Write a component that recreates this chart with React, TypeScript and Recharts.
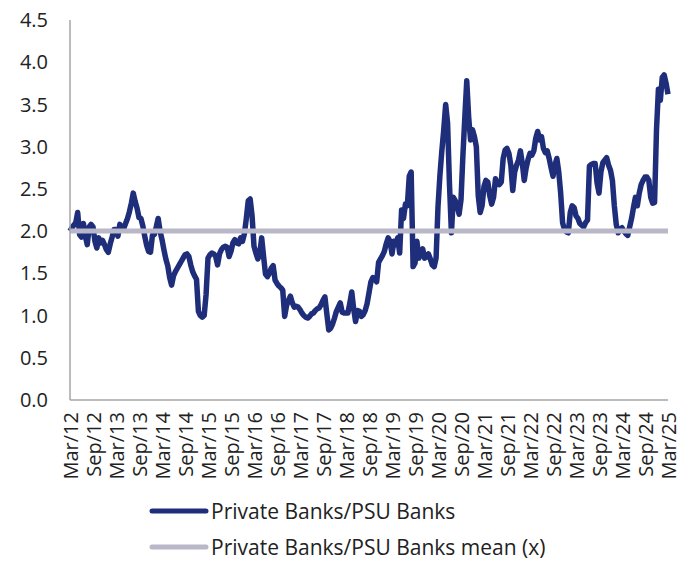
import { LineChart, Line, XAxis, YAxis } from "recharts";

// half-month steps, Mar/12 .. Mar/25
const xTickLabels = [
  "Mar/12", "Sep/12", "Mar/13", "Sep/13", "Mar/14", "Sep/14", "Mar/15", "Sep/15", "Mar/16",
  "Sep/16", "Mar/17", "Sep/17", "Mar/18", "Sep/18", "Mar/19", "Sep/19", "Mar/20", "Sep/20",
  "Mar/21", "Sep/21", "Mar/22", "Sep/22", "Mar/23", "Sep/23", "Mar/24", "Sep/24", "Mar/25",
];

const yTicks = [0, 0.5, 1, 1.5, 2, 2.5, 3, 3.5, 4, 4.5];

const seriesNames = ["Private Banks/PSU Banks", "Private Banks/PSU Banks mean (x)"];

const ratio = [
  2.0, 2.04, 2.07, 2.1, 2.22, 1.96, 1.93, 2.09, 1.94, 1.84, 2.05, 2.08,
  2.05, 1.88, 1.8, 1.92, 1.86, 1.89, 1.84, 1.78, 1.75, 1.85, 1.93, 2.02,
  2.02, 1.94, 2.08, 2.03, 2.03, 2.09, 2.15, 2.23, 2.33, 2.45, 2.35, 2.27,
  2.16, 2.15, 2.06, 1.94, 1.83, 1.76, 1.75, 1.95, 1.96, 2.05, 2.15, 2.0,
  1.9, 1.78, 1.67, 1.59, 1.45, 1.36, 1.47, 1.52, 1.56, 1.6, 1.64, 1.68,
  1.72, 1.73, 1.7, 1.6, 1.52, 1.47, 1.43, 1.05, 1.0, 0.98, 1.0, 1.25,
  1.68, 1.72, 1.74, 1.73, 1.7, 1.6, 1.73, 1.78, 1.81, 1.82, 1.81, 1.7,
  1.76, 1.86, 1.9, 1.86, 1.85, 1.92, 1.88, 1.97, 2.15, 2.36, 2.38, 2.18,
  1.82, 1.74, 1.67, 1.73, 1.92, 1.7, 1.49, 1.46, 1.5, 1.56, 1.59, 1.42,
  1.38, 1.35, 1.33, 1.3, 0.99, 1.12, 1.18, 1.23, 1.15, 1.1, 1.11, 1.1,
  1.07, 1.03, 1.0, 0.98, 0.97, 0.99, 1.02, 1.03, 1.06, 1.08, 1.09, 1.13,
  1.18, 1.22, 1.02, 0.83, 0.85, 0.9, 0.97, 1.05, 1.1, 1.15, 1.04, 1.03,
  1.03, 1.03, 1.15, 1.28, 1.08, 0.93, 1.06, 1.05, 0.99, 1.01, 1.06, 1.14,
  1.27, 1.4, 1.45, 1.43, 1.4, 1.63, 1.67, 1.71, 1.76, 1.85, 1.92, 1.88,
  1.73, 1.88, 1.84, 1.92, 1.74, 2.25, 2.15, 2.32, 2.3, 2.65, 2.7, 1.58,
  1.62, 1.88, 1.68, 1.76, 1.79, 1.68, 1.7, 1.73, 1.67, 1.6, 1.58, 1.68,
  2.29, 2.66, 2.95, 3.2, 3.5, 3.28, 2.55, 1.98, 2.4, 2.36, 2.3, 2.2,
  2.37, 2.9, 3.35, 3.78, 3.35, 3.08, 3.2, 3.12, 3.0, 2.42, 2.22, 2.3,
  2.53, 2.6, 2.58, 2.42, 2.32, 2.4, 2.62, 2.56, 2.55, 2.58, 2.86, 2.96,
  2.98, 2.92, 2.78, 2.48, 2.7, 2.78, 2.84, 2.95, 2.8, 2.6, 2.75, 2.85,
  2.92, 2.9, 2.95, 3.1, 3.18, 3.08, 3.12, 2.98, 2.93, 2.95, 2.86, 2.75,
  2.65, 2.78, 2.86, 2.7, 2.45, 2.1, 2.02, 1.99, 1.98, 2.22, 2.3, 2.28,
  2.18, 2.15, 2.09, 2.07, 2.05, 2.1, 2.13, 2.77, 2.79, 2.8, 2.8, 2.57,
  2.45, 2.7, 2.81, 2.84, 2.87, 2.78, 2.72, 2.6, 2.3, 2.08, 1.98, 2.02,
  2.04, 2.0, 1.97, 1.95, 2.05, 2.15, 2.28, 2.4, 2.3, 2.45, 2.55, 2.6,
  2.64, 2.64, 2.6, 2.4, 2.33, 2.34, 3.2, 3.68, 3.55, 3.82, 3.85, 3.75,
  3.62,
];

const meanLevel = 2.0;

const data = ratio.map((v, i) => ({ i, ratio: v, mean: meanLevel }));
const xTicks = xTickLabels.map((_, k) => k * 12);

const BLUE = "#1f2e7a";
const GREY = "#b9b8c9";
const FONT = "'Open Sans', sans-serif";

const XTick = ({ x, y, payload }: any) => (
  <text
    x={x}
    y={y}
    transform={`rotate(-90, ${x}, ${y})`}
    textAnchor="end"
    dominantBaseline="central"
    fontSize={20}
    fill="#222"
    fontFamily={FONT}
  >
    {xTickLabels[Math.round(payload.value / 12)]}
  </text>
);

// legend drawn under the x axis, inside the svg
const LegendLabel = ({ viewBox }: any) => {
  const left = viewBox.x + 82;
  const top = viewBox.y + 111;
  return (
    <g>
      {seriesNames.map((name, k) => (
        <g key={name}>
          <line
            x1={left}
            y1={top + k * 36}
            x2={left + 54}
            y2={top + k * 36}
            stroke={k === 0 ? BLUE : GREY}
            strokeWidth={5}
            strokeLinecap="round"
          />
          <text
            x={left + 59}
            y={top + k * 36}
            dominantBaseline="central"
            fontSize={21}
            fill="#222"
            fontFamily={FONT}
          >
            {name}
          </text>
        </g>
      ))}
    </g>
  );
};

export default function App() {
  // pull the chart up over the body margin so the second legend row fits
  return (
    <div style={{ marginTop: -8 }}>
      <LineChart width={673} height={561} data={data} margin={{ top: 20, right: 13, left: 0, bottom: 61 }}>
        <XAxis
          dataKey="i"
          type="number"
          domain={[0, 312]}
          ticks={xTicks}
          interval={0}
          tick={<XTick />}
          tickLine={false}
          tickSize={0}
          tickMargin={12}
          height={100}
          stroke="#a6a6a6"
          strokeWidth={1.5}
          label={<LegendLabel />}
        />
        <YAxis
          domain={[0, 4.5]}
          ticks={yTicks}
          interval={0}
          tickFormatter={(v: number) => v.toFixed(1)}
          tickLine={false}
          tickSize={0}
          tickMargin={22}
          width={62}
          stroke="#a6a6a6"
          strokeWidth={1.5}
          tick={{ fontSize: 20, fill: "#222", fontFamily: FONT }}
        />
        <Line
          dataKey="ratio"
          name={seriesNames[0]}
          stroke={BLUE}
          strokeWidth={5.5}
          strokeLinejoin="round"
          dot={false}
          isAnimationActive={false}
        />
        <Line
          dataKey="mean"
          name={seriesNames[1]}
          stroke={GREY}
          strokeWidth={5}
          dot={false}
          isAnimationActive={false}
        />
      </LineChart>
    </div>
  );
}
